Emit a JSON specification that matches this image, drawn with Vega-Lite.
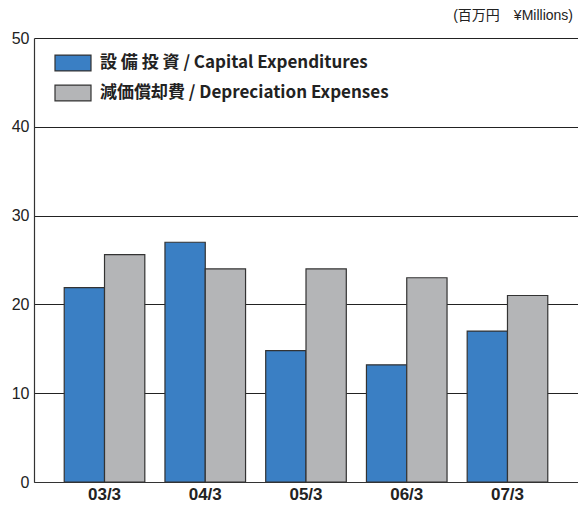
{
  "$schema": "https://vega.github.io/schema/vega-lite/v6.json",
  "autosize": {"type": "none"},
  "padding": {"left": 34, "top": 38, "right": 0, "bottom": 25},
  "width": 544,
  "height": 444,
  "background": "white",
  "title": {
    "text": "(百万円　¥Millions)",
    "anchor": "end",
    "frame": "group",
    "offset": 7,
    "fontSize": 14,
    "fontWeight": "normal",
    "font": "Liberation Sans, Noto Sans CJK JP",
    "color": "#222",
    "dx": -5
  },
  "data": {
    "values": [
      {"year": "03/3", "series": "設 備 投 資 / Capital Expenditures", "value": 21.9},
      {"year": "03/3", "series": "減価償却費 / Depreciation Expenses", "value": 25.6},
      {"year": "04/3", "series": "設 備 投 資 / Capital Expenditures", "value": 27.0},
      {"year": "04/3", "series": "減価償却費 / Depreciation Expenses", "value": 24.0},
      {"year": "05/3", "series": "設 備 投 資 / Capital Expenditures", "value": 14.8},
      {"year": "05/3", "series": "減価償却費 / Depreciation Expenses", "value": 24.0},
      {"year": "06/3", "series": "設 備 投 資 / Capital Expenditures", "value": 13.2},
      {"year": "06/3", "series": "減価償却費 / Depreciation Expenses", "value": 23.0},
      {"year": "07/3", "series": "設 備 投 資 / Capital Expenditures", "value": 17.0},
      {"year": "07/3", "series": "減価償却費 / Depreciation Expenses", "value": 21.0}
    ]
  },
  "mark": {"type": "bar", "stroke": "#333", "strokeWidth": 1.2},
  "encoding": {
    "x": {
      "field": "year",
      "type": "nominal",
      "scale": {"paddingInner": 0.2, "paddingOuter": 0.3},
      "axis": {
        "title": null,
        "labelAngle": 0,
        "ticks": false,
        "domainColor": "#333",
        "domainWidth": 1.2,
        "labelFont": "Liberation Sans Narrow, Liberation Sans",
        "labelFontWeight": "bold",
        "labelFontSize": 17,
        "labelColor": "#222",
        "labelPadding": 4
      }
    },
    "xOffset": {
      "field": "series",
      "type": "nominal",
      "sort": ["設 備 投 資 / Capital Expenditures", "減価償却費 / Depreciation Expenses"],
      "scale": {"paddingInner": 0, "paddingOuter": 0}
    },
    "y": {
      "field": "value",
      "type": "quantitative",
      "scale": {"domain": [0, 50], "nice": false},
      "axis": {
        "title": null,
        "values": [0, 10, 20, 30, 40, 50],
        "ticks": false,
        "grid": true,
        "gridColor": "#222",
        "gridWidth": 1,
        "gridOpacity": 1,
        "domainColor": "#333",
        "domainWidth": 1.2,
        "labelFont": "Liberation Sans",
        "labelFontSize": 16,
        "labelColor": "#222",
        "labelPadding": 5
      }
    },
    "color": {
      "field": "series",
      "type": "nominal",
      "sort": ["設 備 投 資 / Capital Expenditures", "減価償却費 / Depreciation Expenses"],
      "scale": {"range": ["#3a7fc4", "#b4b5b7"]},
      "legend": {
        "title": null,
        "orient": "none",
        "legendX": 20,
        "legendY": 6,
        "padding": 0,
        "symbolType": "M-1,-0.44H1V0.44H-1Z",
        "symbolSize": 1296,
        "symbolStrokeColor": "#333",
        "symbolStrokeWidth": 1.2,
        "symbolOpacity": 1,
        "labelFont": "Liberation Sans Narrow, Noto Sans CJK JP",
        "labelFontWeight": "bold",
        "labelFontSize": 17,
        "labelColor": "#222",
        "labelLimit": 400,
        "labelOffset": 8,
        "rowPadding": -7
      }
    }
  },
  "config": {"view": {"stroke": null}}
}
